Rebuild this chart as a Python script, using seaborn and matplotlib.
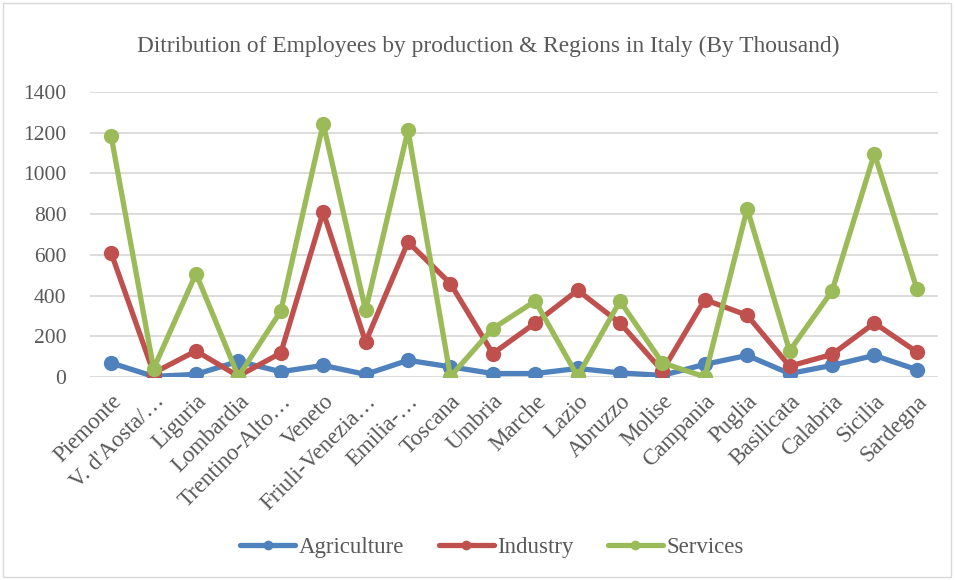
import matplotlib
matplotlib.use("Agg")
import matplotlib.pyplot as plt
from matplotlib.patches import Rectangle
from matplotlib.lines import Line2D
import numpy as np
import pandas as pd
import seaborn as sns

regions = ["Piemonte", "V. d'Aosta/…", "Liguria", "Lombardia", "Trentino-Alto…",
           "Veneto", "Friuli-Venezia…", "Emilia-…", "Toscana", "Umbria", "Marche",
           "Lazio", "Abruzzo", "Molise", "Campania", "Puglia", "Basilicata",
           "Calabria", "Sicilia", "Sardegna"]
agriculture = [69, 3, 13, 77, 26, 57, 13, 82, 50, 17, 17, 42, 20, 8, 62, 106, 17, 57, 106, 36]
industry = [609, 20, 128, 4, 118, 810, 172, 663, 459, 115, 265, 426, 265, 30, 380, 303, 53, 111, 265, 123]
services = [1182, 41, 508, 2, 324, 1245, 327, 1212, 2, 238, 373, 3, 373, 69, 1, 827, 128, 422, 1097, 434]
series_names = ["Agriculture", "Industry", "Services"]
colors = ["#4F81BD", "#C0504D", "#9BBB59"]
yticks = [0, 200, 400, 600, 800, 1000, 1200, 1400]

idx = np.arange(len(regions))
df = pd.concat([
    pd.DataFrame({"pos": idx, "region": regions, "value": vals, "sector": name})
    for name, vals in zip(series_names, [agriculture, industry, services])
], ignore_index=True)

sns.set_theme(style="white")
plt.rcParams["font.family"] = ["Liberation Serif", "DejaVu Serif"]

fig = plt.figure(figsize=(9.56, 5.8), dpi=100)
ax = fig.add_axes([90 / 956, 1 - 377 / 580, 848 / 956, 285 / 580])

sns.lineplot(data=df, x="pos", y="value", hue="sector", hue_order=series_names,
             palette=colors, marker="o", markersize=11, markeredgewidth=0,
             linewidth=3.8, sort=False, ax=ax, legend=False, zorder=3)

ax.set_xlim(-0.5, len(regions) - 0.5)
ax.set_ylim(0, 1400)
ax.set_yticks(yticks)
ax.set_yticklabels([str(v) for v in yticks], fontsize=15.5, color="#595959")
ax.set_xticks(idx)
ax.set_xticklabels(regions, rotation=45, ha="right", rotation_mode="anchor",
                   fontsize=16.5, color="#595959")
ax.tick_params(axis="both", length=0)
ax.tick_params(axis="x", pad=10)
ax.tick_params(axis="y", pad=17)
ax.grid(axis="y", color="#d9d9d9", linewidth=1.3, zorder=0)
ax.set_axisbelow(True)
for s in ax.spines.values():
    s.set_visible(False)
ax.set_xlabel("")
ax.set_ylabel("")

handles = [Line2D([0], [0], color=c, linewidth=3.8, marker="o", markersize=7,
                  markeredgewidth=0, solid_capstyle="round") for c in colors]
fig.legend(handles, series_names, loc="center", bbox_to_anchor=(492 / 956, 1 - 547 / 580),
           ncol=3, frameon=False, fontsize=16.5, handlelength=2.4,
           columnspacing=1.5, handletextpad=0.15, labelcolor="#595959")

fig.text(488 / 956, 1 - 46 / 580,
         "Ditribution of Employees by production & Regions in Italy (By Thousand)",
         ha="center", va="center", fontsize=16.8, color="#595959")

fig.patches.append(Rectangle((3 / 956, 3 / 580), 948 / 956, 574 / 580,
                             transform=fig.transFigure, fill=False,
                             edgecolor="#d9d9d9", linewidth=1.0))

fig.savefig("out.png", dpi=100, facecolor="white")
